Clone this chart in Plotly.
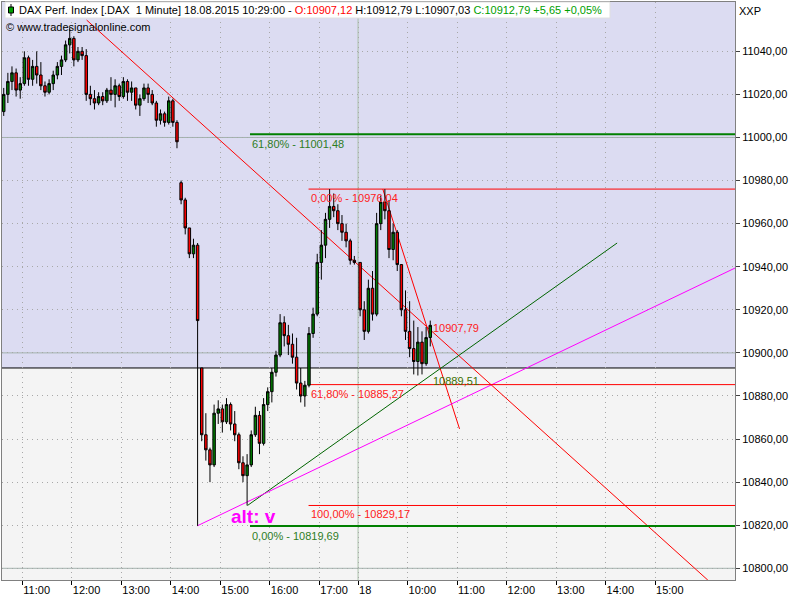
import pandas as pd
import plotly.graph_objects as go

# ---------------- data ----------------
day17_bars = pd.date_range("2015-08-17 10:35", "2015-08-17 17:40", freq="5min")
day18_bars = pd.date_range("2015-08-18 09:00", "2015-08-18 10:25", freq="5min")

opens = [11012, 11020, 11026, 11030, 11022, 11025, 11037, 11027, 11033, 11029,
         11024, 11021, 11025, 11029, 11033, 11036, 11043, 11046, 11036, 11040,
         11038, 11020, 11018, 11016, 11019, 11017, 11022, 11020, 11024, 11019,
         11026, 11021, 11023, 11015, 11018, 11023, 11020, 11016, 11008, 11011,
         11007, 11017, 11007, 10979, 10971, 10958, 10946, 10950, 10893, 10862,
         10855, 10848, 10872, 10874, 10868, 10876, 10867, 10862, 10849, 10843,
         10848, 10862, 10871, 10858, 10876, 10882, 10891, 10899, 10914, 10908,
         10904, 10898, 10886, 10880, 10885, 10909, 10918, 10942, 10950, 10962,
         10968, 10966, 10960, 10956, 10952, 10943, 10942, 10920, 10910, 10930,
         10918, 10960, 10970, 10966, 10948, 10956, 10941, 10920, 10910, 10902,
         10896, 10905, 10895, 10907.12]
highs = [11023, 11030, 11033, 11032, 11028, 11040, 11038, 11036, 11040, 11035,
         11026, 11027, 11031, 11035, 11038, 11045, 11051, 11047, 11042, 11042,
         11041, 11024, 11022, 11021, 11021, 11023, 11028, 11027, 11025, 11028,
         11027, 11026, 11023, 11020, 11025, 11025, 11022, 11017, 11013, 11012,
         11019, 11018, 11008, 10980, 10972, 10958, 10953, 10951, 10893, 10872,
         10856, 10876, 10878, 10876, 10879, 10877, 10873, 10863, 10852, 10853,
         10864, 10875, 10873, 10879, 10884, 10893, 10901, 10918, 10917, 10913,
         10909, 10907, 10893, 10887, 10912, 10921, 10946, 10957, 10965, 10976.04,
         10974, 10969, 10964, 10960, 10953, 10945, 10942, 10924, 10934, 10938,
         10965, 10973, 10976, 10971, 10960, 10957, 10941, 10929, 10924, 10915,
         10912, 10910, 10912, 10915]
lows = [11010, 11016, 11022, 11019, 11018, 11024, 11024, 11024, 11025, 11022,
        11019, 11020, 11022, 11027, 11029, 11035, 11039, 11033, 11035, 11036,
        11017, 11015, 11013, 11015, 11015, 11016, 11017, 11014, 11017, 11018,
        11017, 11017, 11013, 11010, 11017, 11016, 11015, 11005, 11006, 11005,
        11006, 11005, 10995, 10969, 10955, 10944, 10944, 10819.69, 10859, 10850,
        10840, 10847, 10867, 10863, 10867, 10864, 10859, 10846, 10840, 10829.17,
        10847, 10861, 10853, 10857, 10873, 10877, 10889, 10898, 10903, 10899,
        10895, 10883, 10877, 10875, 10884, 10907, 10917, 10934, 10944, 10958,
        10963, 10957, 10952, 10949, 10941, 10941, 10917, 10906, 10909, 10915,
        10917, 10957, 10962, 10944, 10943, 10938, 10917, 10906, 10898, 10890,
        10889.51, 10890, 10894, 10903]
closes = [11020, 11026, 11030, 11022, 11025, 11037, 11027, 11033, 11029, 11024,
          11021, 11025, 11029, 11033, 11036, 11043, 11046, 11036, 11040, 11038,
          11020, 11018, 11016, 11019, 11017, 11022, 11020, 11024, 11019, 11026,
          11021, 11023, 11015, 11018, 11023, 11020, 11016, 11008, 11011, 11007,
          11017, 11007, 10998, 10971, 10958, 10946, 10950, 10915, 10862, 10855,
          10848, 10872, 10874, 10868, 10876, 10867, 10862, 10849, 10843, 10848,
          10862, 10871, 10858, 10876, 10882, 10891, 10899, 10914, 10908, 10904,
          10898, 10886, 10880, 10885, 10909, 10918, 10942, 10950, 10962, 10968,
          10966, 10960, 10956, 10952, 10943, 10942, 10920, 10910, 10930, 10918,
          10960, 10970, 10966, 10948, 10956, 10941, 10920, 10910, 10902, 10896,
          10905, 10895, 10907.12, 10912.79]

x_tick_times = ["2015-08-17 11:00", "2015-08-17 12:00", "2015-08-17 13:00", "2015-08-17 14:00",
                "2015-08-17 15:00", "2015-08-17 16:00", "2015-08-17 17:00", "2015-08-18 09:00",
                "2015-08-18 10:00", "2015-08-18 11:00", "2015-08-18 12:00", "2015-08-18 13:00",
                "2015-08-18 14:00", "2015-08-18 15:00"]
x_tick_labels = ["11:00", "12:00", "13:00", "14:00", "15:00", "16:00", "17:00", "18",
                 "10:00", "11:00", "12:00", "13:00", "14:00", "15:00"]
y_tick_values = [10800, 10820, 10840, 10860, 10880, 10900, 10920, 10940, 10960, 10980, 11000, 11020, 11040]

# drawings: (time, price)
down_trend = [("2015-08-17 12:18", 11054.5), ("2015-08-18 16:04", 10794.5)]
steep_trend = [("2015-08-18 09:30", 10976.04), ("2015-08-18 11:03", 10864.7)]
green_trend = [("2015-08-17 15:33", 10829.17), ("2015-08-18 14:14", 10951.0)]
magenta_trend = [("2015-08-17 14:32", 10819.69), ("2015-08-18 16:37", 10939.4)]
green_fib = {"start": "2015-08-17 15:36", "levels": [11001.48, 10819.69], "labels": ["61,80% - 11001,48", "0,00% - 10819,69"]}
red_fib = {"start": "2015-08-17 16:47", "levels": [10976.04, 10885.27, 10829.17],
           "labels": ["0,00% - 10976,04", "61,80% - 10885,27", "100,00% - 10829,17"]}
ref_level = 10893.0
last_high_label = ("2015-08-18 10:28", 10911.5, "10907,79")
last_low_label = ("2015-08-18 10:28", 10886.9, "10889,51")
alt_label = ("2015-08-17 15:11", 10824.2, "alt: v")

# ---------------- axis scale: session minutes with overnight gap removed ----------------
SESSION_OPEN_MIN = 9 * 60
DAY_GAP_OFFSET = 527  # visible minutes of 17th session before the "18" marker


def sess(ts):
    ts = pd.Timestamp(ts)
    m = ts.hour * 60 + ts.minute - SESSION_OPEN_MIN
    return m + (DAY_GAP_OFFSET if ts.day == 18 else 0)


bar_x = [sess(t) + 2.5 for t in list(day17_bars) + list(day18_bars)]
x_ticks = [sess(t) for t in x_tick_times]
X_RANGE = [95.4, 983.9]
Y_RANGE = [10794.57, 11062.89]

FONT = "Liberation Sans"

fig = go.Figure()

fig.add_trace(go.Candlestick(
    x=bar_x, open=opens, high=highs, low=lows, close=closes,
    increasing=dict(fillcolor="#007A00", line=dict(color="black", width=1)),
    decreasing=dict(fillcolor="#FF0000", line=dict(color="black", width=1)),
    whiskerwidth=0, hoverinfo="skip", showlegend=False,
))

shapes = []
# lavender upper zone
shapes.append(dict(type="rect", xref="paper", x0=0, x1=1, yref="y", y0=ref_level, y1=Y_RANGE[1],
                   fillcolor="#DCDCF2", line=dict(width=0), layer="below"))
# solid major grid lines
for lv in [10800, 10900, 11000]:
    shapes.append(dict(type="line", xref="paper", x0=0, x1=1, yref="y", y0=lv, y1=lv,
                       line=dict(color="#A3B3AE", width=1), layer="below"))
shapes.append(dict(type="line", xref="x", x0=sess("2015-08-18 09:00"), x1=sess("2015-08-18 09:00"),
                   yref="paper", y0=0, y1=1, line=dict(color="#A9C2A9", width=1), layer="below"))
# reference level
shapes.append(dict(type="line", xref="paper", x0=0, x1=1, yref="y", y0=ref_level, y1=ref_level,
                   line=dict(color="black", width=1), layer="between"))


def seg(pts, color, width=1):
    (t0, v0), (t1, v1) = pts
    return dict(type="line", xref="x", yref="y", x0=sess(t0), y0=v0, x1=sess(t1), y1=v1,
                line=dict(color=color, width=width), layer="between")


shapes.append(seg(down_trend, "#FF0000"))
shapes.append(seg(steep_trend, "#FF0000"))
shapes.append(seg(green_trend, "#006400"))
shapes.append(seg(magenta_trend, "#FF00FF"))

for lv in green_fib["levels"]:
    shapes.append(dict(type="line", xref="x", yref="y", x0=sess(green_fib["start"]), x1=X_RANGE[1],
                       y0=lv, y1=lv, line=dict(color="#008000", width=2), layer="between"))
for lv in red_fib["levels"]:
    shapes.append(dict(type="line", xref="x", yref="y", x0=sess(red_fib["start"]), x1=X_RANGE[1],
                       y0=lv, y1=lv, line=dict(color="#FF0000", width=1), layer="between"))

# header box + icon (pixel -> paper)
def px(xp):
    return (xp - 2) / 733


def py(yp):
    return (580 - yp) / 578


shapes.append(dict(type="rect", xref="paper", yref="paper", x0=px(5), x1=px(610), y0=py(18), y1=py(2),
                   fillcolor="white", line=dict(color="#E0E0E0", width=1), layer="above"))
shapes.append(dict(type="line", xref="paper", yref="paper", x0=px(11), x1=px(11), y0=py(16), y1=py(4),
                   line=dict(color="black", width=1), layer="above"))
shapes.append(dict(type="rect", xref="paper", yref="paper", x0=px(8.5), x1=px(13.5), y0=py(13), y1=py(7),
                   fillcolor="#00A000", line=dict(color="black", width=1), layer="above"))

annotations = []
header = ("DAX Perf. Index [.DAX&nbsp;&nbsp;1 Minute] 18.08.2015 10:29:00 - "
          "<span style='color:#FF0000'>O:10907,12</span> H:10912,79 L:10907,03 "
          "<span style='color:#00A000'>C:10912,79 +5,65 +0,05%</span>")
annotations.append(dict(xref="paper", yref="paper", x=px(17), y=py(10), xanchor="left", yanchor="middle",
                        text=header, showarrow=False, font=dict(family=FONT, size=11, color="black")))
annotations.append(dict(xref="paper", yref="paper", x=px(4), y=py(27), xanchor="left", yanchor="middle",
                        text="© www.tradesignalonline.com", showarrow=False,
                        font=dict(family=FONT, size=11, color="black")))
annotations.append(dict(xref="paper", yref="paper", x=px(737), y=py(11), xanchor="left", yanchor="middle",
                        text="XXP", showarrow=False, font=dict(family=FONT, size=11, color="black")))

for lv, lab in zip(green_fib["levels"], green_fib["labels"]):
    annotations.append(dict(xref="x", yref="y", x=sess(green_fib["start"]), y=lv, xanchor="left",
                            yanchor="middle", yshift=-10, text=lab, showarrow=False,
                            font=dict(family=FONT, size=11, color="#2E7D1F")))
for lv, lab in zip(red_fib["levels"], red_fib["labels"]):
    annotations.append(dict(xref="x", yref="y", x=sess(red_fib["start"]), y=lv, xanchor="left",
                            yanchor="middle", yshift=-9, text=lab, showarrow=False,
                            font=dict(family=FONT, size=11, color="#FF2020")))

annotations.append(dict(xref="x", yref="y", x=sess(last_high_label[0]), y=last_high_label[1], xanchor="left",
                        yanchor="middle", text=last_high_label[2], showarrow=False,
                        font=dict(family=FONT, size=11, color="#FF2020")))
annotations.append(dict(xref="x", yref="y", x=sess(last_low_label[0]), y=last_low_label[1], xanchor="left",
                        yanchor="middle", text=last_low_label[2], showarrow=False,
                        font=dict(family=FONT, size=11, color="#3C6E00")))
annotations.append(dict(xref="x", yref="y", x=sess(alt_label[0]), y=alt_label[1], xanchor="left",
                        yanchor="middle", text="<b>" + alt_label[2] + "</b>", showarrow=False,
                        font=dict(family=FONT, size=19, color="#FF00FF")))

fig.update_layout(
    width=800, height=600,
    margin=dict(l=2, r=65, t=2, b=20),
    paper_bgcolor="white", plot_bgcolor="#F4F4F4",
    separators=",.", showlegend=False, boxgap=0.15,
    shapes=shapes, annotations=annotations,
    xaxis=dict(range=X_RANGE, tickvals=x_ticks, ticktext=x_tick_labels,
               ticklabelposition="outside right", ticks="outside", ticklen=4, tickcolor="black",
               showgrid=True, gridcolor="#A8A8A8", griddash="1px,4px", gridwidth=1,
               zeroline=False, showline=True, linecolor="#808080", mirror=True,
               rangeslider=dict(visible=False),
               tickfont=dict(family=FONT, size=11, color="black")),
    yaxis=dict(side="right", range=Y_RANGE, tickvals=y_tick_values, tickformat=".2f",
               ticks="outside", ticklen=4, tickcolor="#404040",
               showgrid=True, gridcolor="#A8A8A8", griddash="1px,4px", gridwidth=1,
               zeroline=False, showline=True, linecolor="#808080", mirror=True,
               tickfont=dict(family=FONT, size=11, color="black")),
)

fig.write_html("out.html", config={"displayModeBar": False},
               post_script="document.body.style.margin='0px';document.body.style.overflow='hidden';")
